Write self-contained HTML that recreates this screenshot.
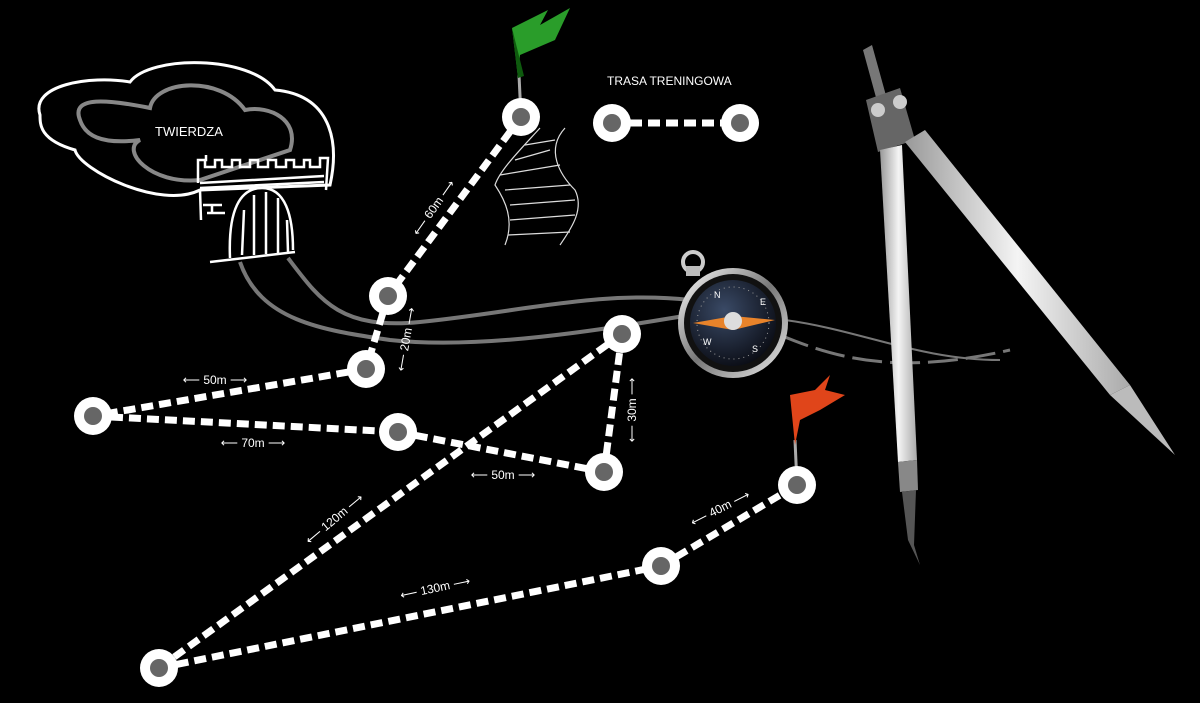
<!DOCTYPE html>
<html><head><meta charset="utf-8"><style>
html,body{margin:0;padding:0;background:#000;width:1200px;height:703px;overflow:hidden}
svg{display:block}
text{font-family:"Liberation Sans",sans-serif;fill:#fff}
</style></head><body>
<svg width="1200" height="703" viewBox="0 0 1200 703">
<defs>
<radialGradient id="cf" cx="0.4" cy="0.35" r="0.7"><stop offset="0" stop-color="#3a4a66"/><stop offset="1" stop-color="#0a0c14"/></radialGradient>
<linearGradient id="ring" x1="0" y1="0" x2="1" y2="1"><stop offset="0" stop-color="#fff"/><stop offset="0.5" stop-color="#777"/><stop offset="1" stop-color="#eee"/></linearGradient>
<linearGradient id="leg" x1="0" y1="0" x2="1" y2="0"><stop offset="0" stop-color="#999"/><stop offset="0.5" stop-color="#f4f4f4"/><stop offset="1" stop-color="#aaa"/></linearGradient>
</defs>
<g fill="none" stroke="#777" stroke-width="4">
<path d="M240 262 C260 320 320 330 390 340 C480 350 600 330 690 315"/>
<path d="M288 258 C320 300 340 330 420 322 C520 312 600 290 690 300"/>
<path d="M780 335 C840 360 900 375 1010 350" stroke-width="3" stroke-dasharray="30 8"/>
<path d="M785 320 C860 330 920 360 1000 360" stroke-width="2"/>
</g>
<path d="M40 115 C30 85 90 75 130 82 C150 55 250 55 275 90 C330 95 340 140 330 185 L200 190 C160 210 80 170 75 150 C40 140 40 125 40 115Z" fill="none" stroke="#fff" stroke-width="3"/>
<path d="M80 120 C70 95 110 100 150 108 C155 80 220 75 245 110 C270 105 300 120 290 150 L200 180 C150 185 120 150 140 140 C100 145 85 135 80 120Z" fill="none" stroke="#888" stroke-width="4"/>
<text x="155" y="136" font-size="13">TWIERDZA</text>
<g fill="none" stroke="#fff" stroke-width="2.5">
<path d="M198 183 L198 160 L206 160 L206 155 M198 160 L205 160 L205 167 L215 167 L215 160 L222 160 L222 167 L232 167 L232 160 L240 160 L240 167 L250 167 L250 160 L258 160 L258 167 L268 167 L268 160 L276 160 L276 167 L286 167 L286 160 L294 160 L294 167 L304 167 L304 160 L310 160 L310 167 L320 167 L320 158 L328 158 L326 190"/>
<path d="M200 183 L324 176 M200 188 L324 182 M200 190 L201 220"/>
<path d="M230 258 C228 210 240 188 262 188 C285 188 293 215 293 250 M210 262 L295 252"/>
<path d="M242 255 L244 210 M254 255 L254 195 M266 254 L266 192 M278 253 L278 198 M288 252 L287 220"/>
<path d="M203 205 L222 205 M207 213 L225 213 M212 205 L212 213"/>
</g>
<g fill="none" stroke="#ddd" stroke-width="1.2">
<path d="M540 128 C520 150 500 170 495 185 C505 200 515 220 505 245"/>
<path d="M565 128 C545 150 560 175 575 190 C585 210 570 230 560 245"/>
<path d="M500 175 L560 165 M505 190 L570 185 M510 205 L575 200 M510 220 L575 215 M508 235 L570 232 M515 160 L550 150 M525 145 L555 140"/>
</g>
<g stroke="#fff" stroke-width="7" stroke-dasharray="12 6" fill="none">
<line x1="521" y1="117" x2="388" y2="296"/>
<line x1="388" y1="296" x2="366" y2="369"/>
<line x1="366" y1="369" x2="93" y2="416"/>
<line x1="93" y1="416" x2="398" y2="432"/>
<line x1="398" y1="432" x2="604" y2="472"/>
<line x1="604" y1="472" x2="622" y2="334"/>
<line x1="622" y1="334" x2="159" y2="668"/>
<line x1="159" y1="668" x2="661" y2="566"/>
<line x1="661" y1="566" x2="797" y2="485"/>
<line x1="612" y1="123" x2="740" y2="123"/>
</g>
<line x1="521" y1="117" x2="519" y2="75" stroke="#aaa" stroke-width="3"/>
<path d="M512 28 L548 10 L540 25 L570 8 L555 40 L520 55 L518 78 Z" fill="#2a9d2a"/>
<path d="M512 28 L518 78 L524 76 Z" fill="#0e5a0e"/>
<line x1="797" y1="485" x2="795" y2="440" stroke="#aaa" stroke-width="3"/>
<path d="M790 395 L815 390 L830 375 L825 390 L845 395 L820 410 L800 420 L795 445 Z" fill="#e0451a"/>
<g>
<g fill="#fff"><circle cx="521" cy="117" r="19"/><circle cx="388" cy="296" r="19"/><circle cx="366" cy="369" r="19"/><circle cx="93" cy="416" r="19"/><circle cx="398" cy="432" r="19"/><circle cx="604" cy="472" r="19"/><circle cx="622" cy="334" r="19"/><circle cx="159" cy="668" r="19"/><circle cx="661" cy="566" r="19"/><circle cx="797" cy="485" r="19"/><circle cx="612" cy="123" r="19"/><circle cx="740" cy="123" r="19"/></g>
<g fill="#666"><circle cx="521" cy="117" r="9"/><circle cx="388" cy="296" r="9"/><circle cx="366" cy="369" r="9"/><circle cx="93" cy="416" r="9"/><circle cx="398" cy="432" r="9"/><circle cx="604" cy="472" r="9"/><circle cx="622" cy="334" r="9"/><circle cx="159" cy="668" r="9"/><circle cx="661" cy="566" r="9"/><circle cx="797" cy="485" r="9"/><circle cx="612" cy="123" r="9"/><circle cx="740" cy="123" r="9"/></g>
</g>
<text x="607" y="85" font-size="12">TRASA TRENINGOWA</text>
<g font-size="12">
<text transform="translate(437,210) rotate(-55)" text-anchor="middle">⟵ 60m ⟶</text>
<text transform="translate(410,340) rotate(-80)" text-anchor="middle">⟵ 20m ⟶</text>
<text x="215" y="384" text-anchor="middle">⟵ 50m ⟶</text>
<text x="253" y="447" text-anchor="middle">⟵ 70m ⟶</text>
<text x="503" y="479" text-anchor="middle">⟵ 50m ⟶</text>
<text transform="translate(636,410) rotate(-90)" text-anchor="middle">⟵ 30m ⟶</text>
<text transform="translate(337,522) rotate(-40)" text-anchor="middle">⟵ 120m ⟶</text>
<text transform="translate(436,592) rotate(-12)" text-anchor="middle">⟵ 130m ⟶</text>
<text transform="translate(722,512) rotate(-27)" text-anchor="middle">⟵ 40m ⟶</text>
</g>
<circle cx="693" cy="262" r="10" fill="none" stroke="#ccc" stroke-width="4"/>
<rect x="686" y="266" width="14" height="10" fill="#bbb"/>
<circle cx="733" cy="323" r="55" fill="url(#ring)"/>
<circle cx="733" cy="323" r="49" fill="#111"/>
<circle cx="733" cy="323" r="43" fill="url(#cf)"/>
<circle cx="733" cy="323" r="36" fill="none" stroke="#999" stroke-width="1" stroke-dasharray="1 4"/>
<path d="M693 323 L733 316 L775 320 L733 330 Z" fill="#e8832a"/>
<circle cx="733" cy="321" r="9" fill="#ddd"/>
<g font-size="9" fill="#ccc"><text x="714" y="298">N</text><text x="760" y="305">E</text><text x="752" y="352">S</text><text x="703" y="345">W</text></g>
<path d="M863 50 L872 45 L890 110 L880 112 Z" fill="#777"/>
<path d="M866 100 L900 88 L915 140 L878 152 Z" fill="#666"/>
<circle cx="878" cy="110" r="7" fill="#ccc"/><circle cx="900" cy="102" r="7" fill="#ccc"/>
<path d="M880 150 L902 145 L917 460 L898 462 Z" fill="url(#leg)"/>
<path d="M898 462 L917 460 L918 490 L900 492 Z" fill="#888"/>
<path d="M902 492 L916 490 L914 545 L920 565 L908 540 Z" fill="#555"/>
<path d="M905 142 L925 130 L1130 385 L1110 395 Z" fill="url(#leg)"/>
<path d="M1110 395 L1130 385 L1175 455 Z" fill="#bbb"/>
</svg>
</body></html>
